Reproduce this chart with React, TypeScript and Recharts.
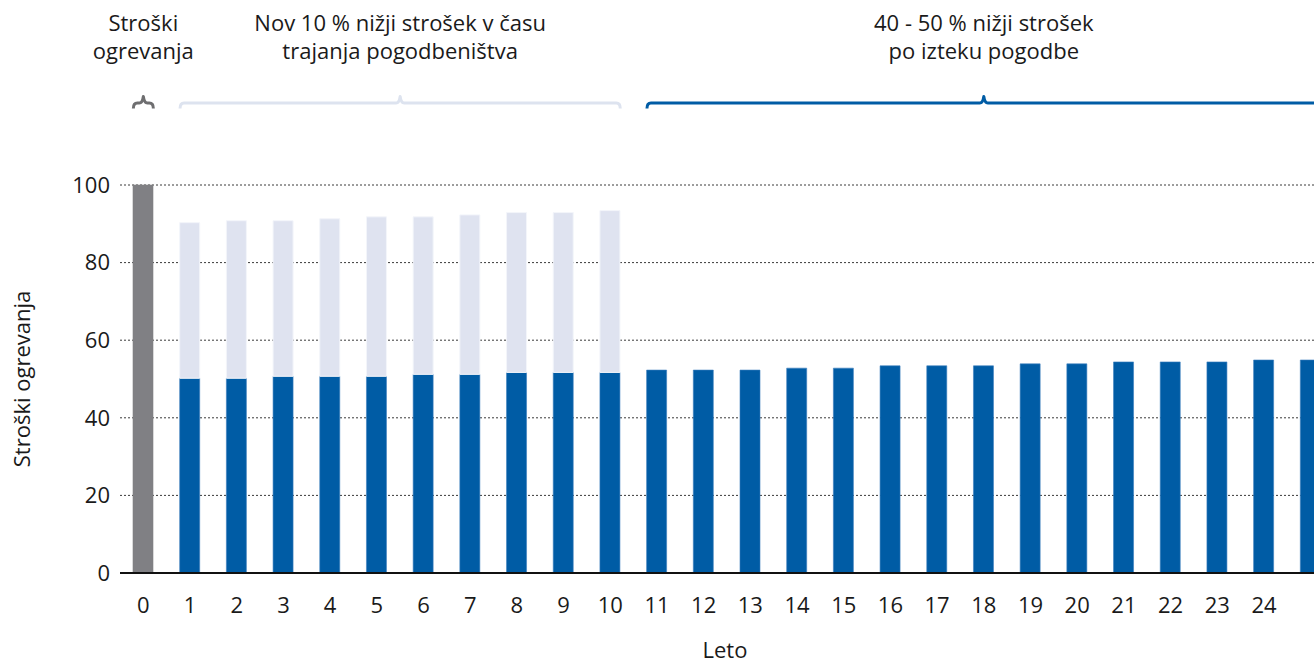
import React from "react";
import { BarChart, Bar, XAxis, YAxis, CartesianGrid, Cell } from "recharts";

const years = ["0","1","2","3","4","5","6","7","8","9","10","11","12","13","14","15","16","17","18","19","20","21","22","23","24","25"];
// cost after the measure (blue) / reference cost (grey, year 0)
const baseCost = [100, 50.2, 50.2, 50.7, 50.7, 50.7, 51.2, 51.2, 51.7, 51.7, 51.7, 52.3, 52.3, 52.3, 52.8, 52.8, 53.4, 53.4, 53.4, 53.9, 53.9, 54.4, 54.4, 54.4, 54.9, 54.9];
// total cost paid during the contract period (years 1-10)
const contractCost = [null, 90.3, 90.8, 90.8, 91.3, 91.8, 91.8, 92.3, 92.9, 92.9, 93.4, null, null, null, null, null, null, null, null, null, null, null, null, null, null, null];
const yTicks = [0, 20, 40, 60, 80, 100];
const hiddenTickLabels = ["25"];

const topLabels = [
  { lines: ["Stroški", "ogrevanja"], from: 0, to: 0, color: "#6e6e70" },
  { lines: ["Nov 10 % nižji strošek v času", "trajanja pogodbeništva"], from: 1, to: 10, color: "#dde3ef" },
  { lines: ["40 - 50 % nižji strošek", "po izteku pogodbe"], from: 11, to: 25, color: "#005ca5" },
];

const data = years.map((y, i) => ({
  year: y,
  base: baseCost[i],
  extra: contractCost[i] != null ? (contractCost[i] as number) - baseCost[i] : null,
}));

const FONT = "'Open Sans', sans-serif";
const FS = 22;
const W = 1360;
const H = 665;
const M = { top: 185, right: 26, bottom: 0, left: 0 };
const Y_W = 120;
const X_H = 92;
const BAR = 20;
const plotLeft = M.left + Y_W;
const plotRight = W - M.right;
const plotTop = M.top;
const plotBottom = H - M.bottom - X_H;
const band = (plotRight - plotLeft) / years.length;
const cx = (i: number) => plotLeft + band * (i + 0.5);

const brace = (x1: number, x2: number) => {
  const yl = 103, ye = 108.5, yp = 96.5, r = 4;
  const p = (x1 + x2) / 2;
  return `M ${x1} ${ye} Q ${x1} ${yl} ${x1 + r} ${yl} L ${p - 4} ${yl} Q ${p - 1} ${yl} ${p} ${yp} Q ${p + 1} ${yl} ${p + 4} ${yl} L ${x2 - r} ${yl} Q ${x2} ${yl} ${x2} ${ye}`;
};

export default function App() {
  return (
    <div style={{ position: "absolute", left: 0, top: 0, width: 1314, height: 665, overflow: "hidden", background: "#fff" }}>
      <BarChart width={W} height={H} data={data} margin={M} barSize={BAR}>
        <CartesianGrid vertical={false} stroke="#3a3a3a" strokeDasharray="2 2" strokeWidth={1} />
        <XAxis
          dataKey="year"
          height={X_H}
          tickLine={false}
          tickSize={0}
          tickMargin={24}
          axisLine={{ stroke: "#111", strokeWidth: 2 }}
          tick={{ fill: "#1a1a1a", fontSize: FS, fontFamily: FONT }}
          tickFormatter={(v: string) => (hiddenTickLabels.includes(v) ? "" : v)}
          interval={0}
        />
        <YAxis
          width={Y_W}
          domain={[0, 100]}
          ticks={yTicks}
          tickLine={false}
          tickSize={0}
          tickMargin={10}
          axisLine={false}
          tick={{ fill: "#1a1a1a", fontSize: FS, fontFamily: FONT }}
        />
        <Bar dataKey="base" stackId="a" fill="#005ca5" stroke="#3b7dbd" strokeWidth={0.6} isAnimationActive={false}>
          {data.map((d, i) => (
            <Cell key={i} fill={i === 0 ? "#808084" : "#005ca5"} stroke={i === 0 ? "#808084" : "#3b7dbd"} />
          ))}
        </Bar>
        <Bar dataKey="extra" stackId="a" fill="#dfe3f0" stroke="#f3f5fa" strokeWidth={1} isAnimationActive={false} />
      </BarChart>
      <svg width={1314} height={665} style={{ position: "absolute", left: 0, top: 0, pointerEvents: "none" }}>
        {topLabels.map((t, k) => {
          const x1 = cx(t.from) - BAR / 2;
          const x2 = cx(t.to) + BAR / 2;
          const mid = (x1 + x2) / 2;
          return (
            <g key={k}>
              {t.lines.map((ln, j) => (
                <text key={j} x={mid} y={31 + j * 28} textAnchor="middle" fontFamily={FONT} fontSize={FS} fill="#1a1a1a">
                  {ln}
                </text>
              ))}
              <path d={brace(x1, x2)} fill="none" stroke={t.color} strokeWidth={3} strokeLinejoin="round" />
            </g>
          );
        })}
        <text
          x={0}
          y={0}
          transform={`translate(30, ${(plotTop + plotBottom) / 2}) rotate(-90)`}
          textAnchor="middle"
          fontFamily={FONT}
          fontSize={FS}
          fill="#1a1a1a"
        >
          Stroški ogrevanja
        </text>
        <text x={(plotLeft + plotRight) / 2 - 2} y={658} textAnchor="middle" fontFamily={FONT} fontSize={FS} fill="#1a1a1a">
          Leto
        </text>
      </svg>
    </div>
  );
}
